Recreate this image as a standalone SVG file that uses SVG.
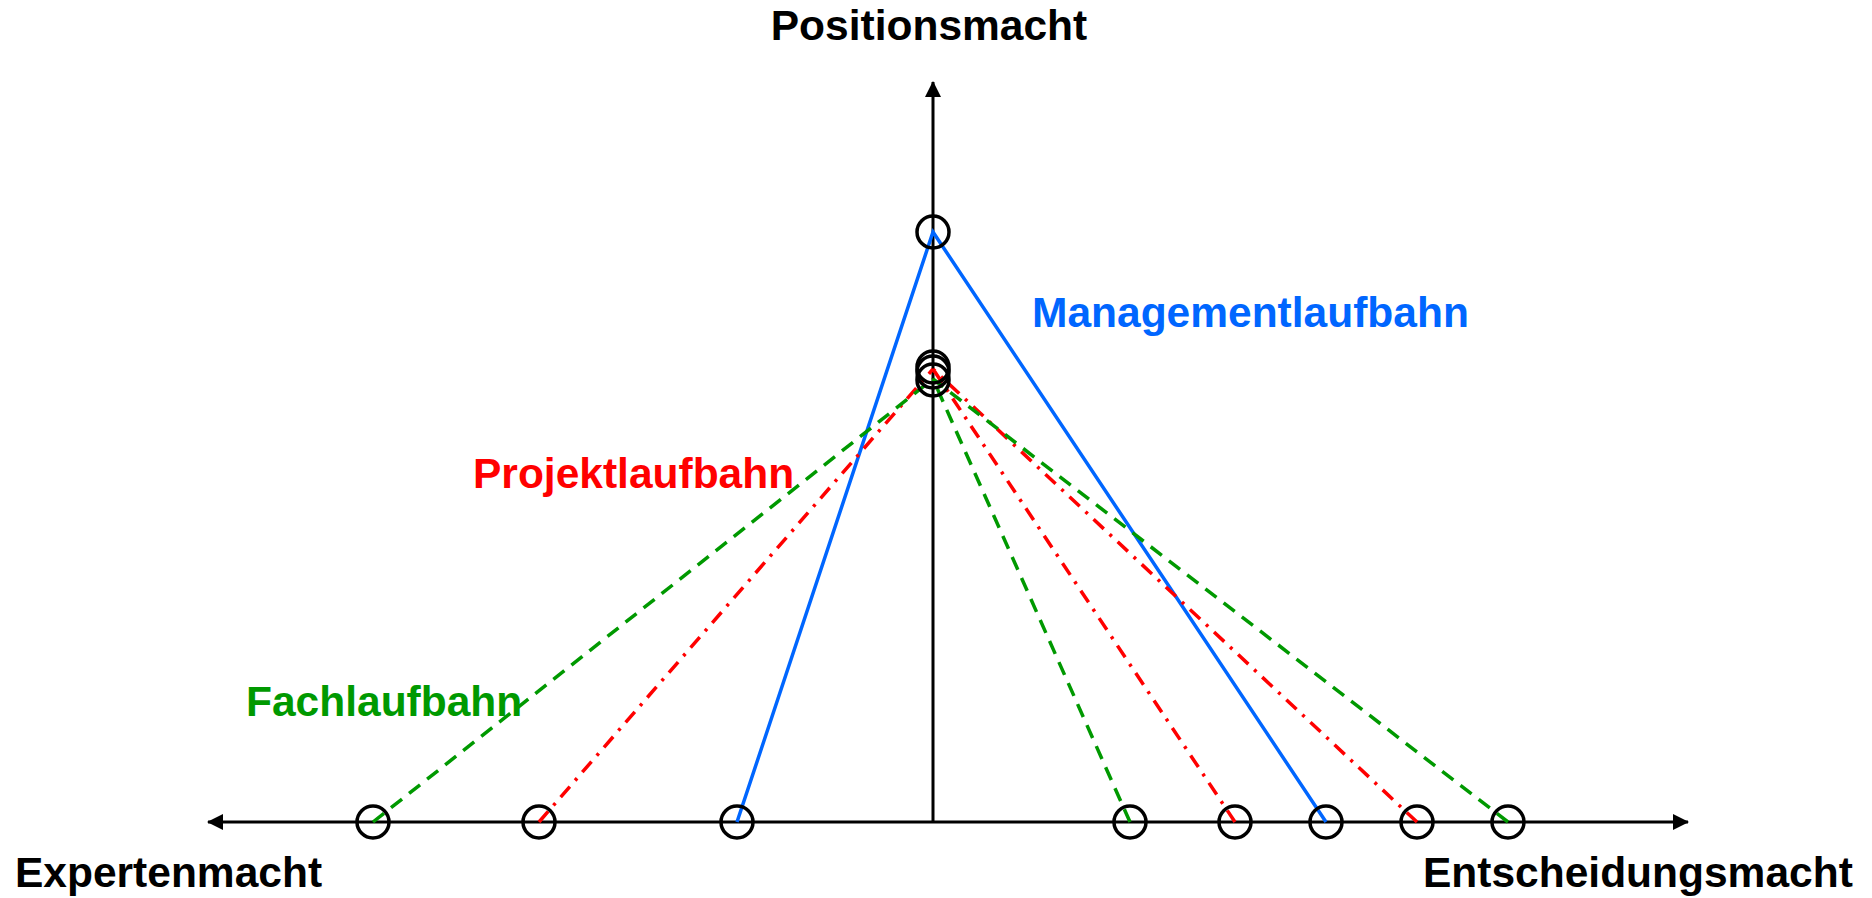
<svg xmlns="http://www.w3.org/2000/svg" width="1872" height="898" viewBox="0 0 1872 898">
<style>
.axis{stroke:#000;stroke-width:3;fill:none}
.node{fill:none;stroke:#000;stroke-width:3.5}
.mgmt{stroke:#0066FF;stroke-width:3.5;fill:none}
.proj{stroke:#FF0000;stroke-width:3.5;fill:none;stroke-dasharray:14 8 3 8}
.fach{stroke:#009900;stroke-width:3.5;fill:none;stroke-dasharray:14 9}
text{font-family:"Liberation Sans",Arial,sans-serif;font-weight:bold;font-size:42.5px}
</style>
<defs>
<marker id="arr" viewBox="0 0 16 16" refX="15" refY="8" markerWidth="16" markerHeight="16" markerUnits="userSpaceOnUse" orient="auto">
<path d="M0,0 L16,8 L0,16 Z" fill="#000"/>
</marker>
</defs>
<rect width="1872" height="898" fill="#fff"/>
<g id="axes">
<line class="axis" x1="933" y1="822" x2="933" y2="82" marker-end="url(#arr)"/>
<line class="axis" x1="933" y1="822" x2="1688" y2="822" marker-end="url(#arr)"/>
<line class="axis" x1="933" y1="822" x2="208" y2="822" marker-end="url(#arr)"/>
</g>
<g id="connectors">
<polyline class="mgmt" points="737,822 933,232 1326,822"/>
<line class="proj" x1="539" y1="822" x2="933" y2="369"/>
<line class="proj" x1="1235" y1="822" x2="933" y2="369"/>
<line class="proj" x1="1417" y1="822" x2="933" y2="369"/>
<line class="fach" x1="373" y1="822" x2="933" y2="379"/>
<line class="fach" x1="1130" y1="822" x2="933" y2="379"/>
<line class="fach" x1="1508" y1="822" x2="933" y2="379"/>
</g>
<g id="n-top"><circle class="node" cx="933" cy="232" r="16"/></g>
<g id="n-apex1"><circle class="node" cx="933" cy="367" r="16"/></g>
<g id="n-apex2"><circle class="node" cx="933" cy="372" r="16"/></g>
<g id="n-apex3"><circle class="node" cx="933" cy="380" r="16"/></g>
<g id="n-b1"><circle class="node" cx="373" cy="822" r="16"/></g>
<g id="n-b2"><circle class="node" cx="539" cy="822" r="16"/></g>
<g id="n-b3"><circle class="node" cx="737" cy="822" r="16"/></g>
<g id="n-b4"><circle class="node" cx="1130" cy="822" r="16"/></g>
<g id="n-b5"><circle class="node" cx="1235" cy="822" r="16"/></g>
<g id="n-b6"><circle class="node" cx="1326" cy="822" r="16"/></g>
<g id="n-b7"><circle class="node" cx="1417" cy="822" r="16"/></g>
<g id="n-b8"><circle class="node" cx="1508" cy="822" r="16"/></g>
<g id="labels">
<text x="929" y="40" text-anchor="middle" fill="#000">Positionsmacht</text>
<text x="15" y="887" fill="#000">Expertenmacht</text>
<text x="1423" y="887" fill="#000">Entscheidungsmacht</text>
<text x="1032" y="327" fill="#0066FF">Managementlaufbahn</text>
<text x="473" y="488" fill="#FF0000">Projektlaufbahn</text>
<text x="246" y="716" fill="#009900">Fachlaufbahn</text>
</g>
</svg>
